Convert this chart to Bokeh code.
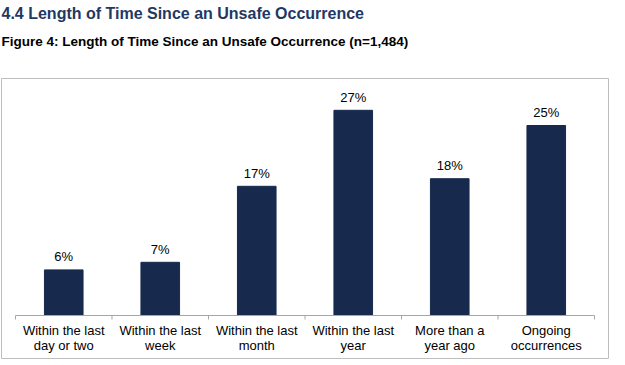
from bokeh.plotting import figure
from bokeh.models import Range1d, Title, ColumnDataSource
from bokeh.core.properties import value
from bokeh.embed import file_html
from bokeh.resources import INLINE

# ---- data ----
categories = [
    "Within the last day or two",
    "Within the last week",
    "Within the last month",
    "Within the last year",
    "More than a year ago",
    "Ongoing occurrences",
]
label_line1 = ["Within the last", "Within the last", "Within the last",
               "Within the last", "More than a", "Ongoing"]
label_line2 = ["day or two", "week", "month", "year", "year ago", "occurrences"]
percent = [6, 7, 17, 27, 18, 25]

main_title = "4.4 Length of Time Since an Unsafe Occurrence"
sub_title = "Figure 4: Length of Time Since an Unsafe Occurrence (n=1,484)"

# ---- layout constants ----
FRAME_W, FRAME_H = 607, 280
AXIS_FROM_BOTTOM = 43
PX_PER_PCT = 7.6
XPAD = 0.145
FONT = "Liberation Sans"
BAR_COLOR = "#172A4D"
TITLE_COLOR = "#1F3864"
GRAY = "#A6A6A6"

y_top = (FRAME_H - AXIS_FROM_BOTTOM) / PX_PER_PCT
y_bot = -AXIS_FROM_BOTTOM / PX_PER_PCT

n = len(categories)
xs = list(range(n))

p = figure(frame_width=FRAME_W, frame_height=FRAME_H,
           output_backend="svg", toolbar_location=None,
           x_range=Range1d(-0.5 - XPAD, n - 0.5 + XPAD),
           y_range=Range1d(y_bot, y_top),
           x_axis_location=None, y_axis_location=None,
           min_border_left=1, min_border_right=1, min_border_bottom=1,
           min_border_top=0, title=None)
p.xgrid.visible = False
p.ygrid.visible = False
p.outline_line_color = "#BDBDBD"
p.outline_line_width = 1
p.background_fill_color = "white"
p.border_fill_color = "white"

# spacer between subtitle and the chart box
spacer = Title(text=" ", text_font=FONT, text_font_size="1px", standoff=18)
p.add_layout(spacer, "above")
sub = Title(text=sub_title, text_font=FONT, text_font_size="13.5px",
            text_font_style="bold", text_color="black", align="left",
            offset=0, standoff=17)
p.add_layout(sub, "above")
mt = Title(text=main_title, text_font=FONT, text_font_size="16px",
           text_font_style="bold", text_color=TITLE_COLOR, align="left",
           offset=0, standoff=4)
p.add_layout(mt, "above")

src = ColumnDataSource(dict(x=xs, pct=percent,
                            lab=[f"{v}%" for v in percent],
                            l1=label_line1, l2=label_line2))

p.vbar(x="x", top="pct", bottom=0, width=0.4, source=src,
       fill_color=BAR_COLOR, line_color=BAR_COLOR)

# axis line + ticks between categories
bounds = [i - 0.5 for i in range(n + 1)]
tick_len = 4 / PX_PER_PCT
p.segment(x0=[-0.5], y0=[0], x1=[n - 0.5], y1=[0],
          line_color=GRAY, line_width=1)
p.segment(x0=bounds, y0=[0] * len(bounds), x1=bounds,
          y1=[-tick_len] * len(bounds), line_color=GRAY, line_width=1)

p.text(x="x", y="pct", text="lab", source=src, text_align="center",
       text_baseline="alphabetic", y_offset=-13, text_font=value(FONT),
       text_font_size="13px", text_color="black")
p.text(x="x", y=0, text="l1", source=src, text_align="center",
       text_baseline="alphabetic", y_offset=15, text_font=value(FONT),
       text_font_size="13px", text_color="black")
p.text(x="x", y=0, text="l2", source=src, text_align="center",
       text_baseline="alphabetic", y_offset=30, text_font=value(FONT),
       text_font_size="13px", text_color="black")

open("out.html", "w").write(file_html(p, INLINE))
